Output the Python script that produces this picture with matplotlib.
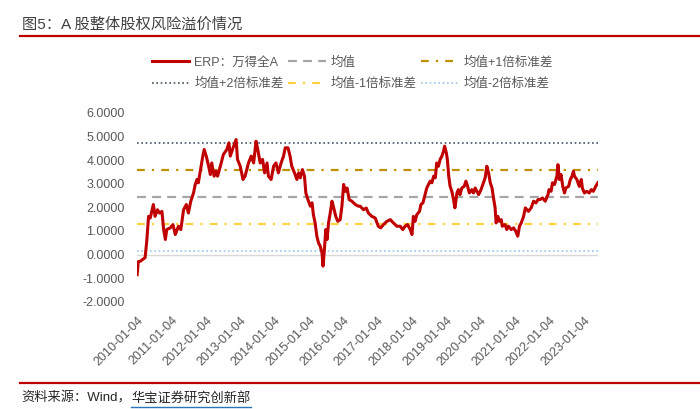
import matplotlib
matplotlib.use("Agg")
import matplotlib.pyplot as plt
from matplotlib.lines import Line2D
import pandas as pd

plt.rcParams['font.family'] = ['Liberation Sans', 'Noto Sans CJK SC']

# ERP 万得全A：时间(距 2010-01-04 的年数) 与数值(%)
erp_t = [0.00, 0.03, 0.09, 0.23, 0.28, 0.33, 0.38, 0.47, 0.52, 0.59, 0.65, 0.72, 0.77, 0.82, 0.86,
         0.96, 1.04, 1.11, 1.20, 1.27, 1.35, 1.43, 1.49, 1.56, 1.64, 1.69, 1.74, 1.78, 1.83, 1.91,
         1.95, 2.01, 2.08, 2.13, 2.17, 2.24, 2.30, 2.34, 2.42, 2.51, 2.61, 2.67, 2.71, 2.79, 2.88,
         2.92, 3.00, 3.08, 3.14, 3.24, 3.32, 3.39, 3.46, 3.51, 3.58, 3.65, 3.71, 3.78, 3.82, 3.90,
         3.97, 4.04, 4.11, 4.19, 4.26, 4.31, 4.39, 4.45, 4.50, 4.58, 4.65, 4.70, 4.75, 4.81, 4.87,
         4.91, 4.97, 5.04, 5.09, 5.13, 5.18, 5.23, 5.28, 5.33, 5.38, 5.41, 5.45, 5.49, 5.53, 5.57,
         5.62, 5.67, 5.71, 5.78, 5.84, 5.91, 5.96, 6.01, 6.06, 6.11, 6.17, 6.25, 6.35, 6.44, 6.49,
         6.59, 6.67, 6.73, 6.83, 6.93, 7.02, 7.09, 7.17, 7.27, 7.37, 7.46, 7.56, 7.66, 7.73, 7.80,
         7.87, 7.95, 8.00, 8.04, 8.09, 8.14, 8.22, 8.26, 8.32, 8.38, 8.43, 8.48, 8.53, 8.58, 8.63,
         8.68, 8.72, 8.77, 8.82, 8.87, 8.92, 8.95, 9.00, 9.03, 9.07, 9.11, 9.16, 9.21, 9.25, 9.31,
         9.35, 9.40, 9.45, 9.52, 9.57, 9.62, 9.67, 9.74, 9.79, 9.84, 9.94, 10.01, 10.08, 10.13, 10.18,
         10.23, 10.28, 10.33, 10.37, 10.42, 10.45, 10.50, 10.54, 10.60, 10.63, 10.71, 10.76, 10.81, 10.89, 10.96,
         11.02, 11.08, 11.13, 11.18, 11.25, 11.30, 11.35, 11.39, 11.47, 11.54, 11.61, 11.67, 11.73, 11.80, 11.88,
         11.96, 11.99, 12.05, 12.09, 12.15, 12.22, 12.25, 12.29, 12.34, 12.39, 12.44, 12.48, 12.56, 12.61, 12.66,
         12.70, 12.73, 12.80, 12.87, 12.93, 12.96, 13.02, 13.09, 13.16, 13.22, 13.28, 13.35, 13.41]
erp_v = [-0.85, -0.30, -0.28, -0.13, 0.60, 1.62, 1.55, 2.12, 1.62, 1.90, 1.76, 1.83, 1.06, 0.64, 1.06,
         1.13, 1.27, 0.85, 1.20, 1.06, 1.90, 2.12, 1.76, 2.26, 2.61, 2.97, 3.18, 3.04, 3.47, 4.17,
         4.45, 4.17, 3.74, 3.39, 3.88, 3.32, 3.53, 3.32, 3.74, 4.24, 4.45, 4.73, 4.17, 4.52, 4.87,
         4.03, 3.74, 3.18, 3.32, 3.88, 4.17, 3.88, 4.80, 4.45, 3.88, 4.03, 3.46, 3.88, 3.32, 3.18,
         3.74, 3.88, 3.46, 3.88, 4.17, 4.52, 4.52, 4.17, 3.74, 3.46, 3.18, 3.46, 3.25, 3.60, 3.32,
         2.61, 2.33, 2.05, 2.19, 1.69, 1.34, 0.78, 0.49, 0.35, 0.07, -0.49, 0.21, 1.06, 0.64, 1.34,
         1.76, 2.26, 2.05, 1.62, 1.41, 1.48, 2.05, 2.97, 2.68, 2.82, 2.33, 2.26, 2.12, 2.05, 2.05,
         1.90, 1.97, 1.76, 1.62, 1.55, 1.20, 1.13, 1.27, 1.41, 1.48, 1.34, 1.20, 1.20, 1.06, 1.20,
         1.27, 1.06, 0.85, 1.62, 1.41, 1.69, 1.83, 2.12, 2.19, 2.54, 2.82, 2.97, 3.11, 3.04, 3.32,
         3.25, 3.88, 3.74, 4.03, 4.17, 4.38, 4.59, 4.31, 4.03, 3.32, 2.89, 2.68, 2.33, 1.98, 2.61,
         2.75, 2.54, 2.82, 2.89, 3.11, 2.89, 2.61, 2.75, 2.61, 2.82, 2.54, 2.75, 3.04, 3.25, 3.74,
         3.46, 3.04, 2.82, 2.43, 1.98, 1.34, 1.62, 1.41, 1.48, 1.20, 1.27, 1.06, 1.20, 1.06, 1.13,
         0.99, 0.78, 1.20, 1.34, 1.62, 1.98, 1.90, 1.83, 1.98, 2.26, 2.19, 2.33, 2.33, 2.40, 2.26,
         2.54, 2.75, 2.68, 3.04, 2.97, 3.32, 3.81, 3.18, 3.39, 2.89, 2.61, 2.82, 2.89, 3.18, 3.32,
         3.53, 3.32, 3.18, 2.89, 3.18, 2.82, 2.61, 2.68, 2.61, 2.75, 2.68, 2.89, 3.04]

erp_mean = 2.43
erp_std = 1.14

years = list(range(2010, 2024))
xtick_labels = [f"{y}-01-04" for y in years]
yticks = [-2, -1, 0, 1, 2, 3, 4, 5, 6]

start = pd.Timestamp("2010-01-04")
dates = [start + pd.Timedelta(days=t * 365.25) for t in erp_t]
tick_dates = [pd.Timestamp(f"{y}-01-04") for y in years]

fig = plt.figure(figsize=(7, 4.09), dpi=100)
ax = fig.add_axes([0.196, 0.262, 0.658, 0.462])

ax.axhline(0, color="#D9D9D9", lw=1, zorder=1)
ax.plot(dates, erp_v, color="#C00000", lw=2.2, zorder=5)
l_mean = ax.axhline(erp_mean, color="#A6A6A6", lw=1.6, dashes=(4, 2.8), zorder=3)
l_p1 = ax.axhline(erp_mean + erp_std, color="#BF9000", lw=1.6, dashes=(3.5, 3.2, 1, 3.2), zorder=3)
l_p2 = ax.axhline(erp_mean + 2 * erp_std, color="#44546A", lw=1.2, dashes=(1, 1.6), zorder=3)
l_m1 = ax.axhline(erp_mean - erp_std, color="#FFD23F", lw=1.6, dashes=(3.5, 3.2, 1, 3.2), zorder=3)
l_m2 = ax.axhline(erp_mean - 2 * erp_std, color="#9DC3E6", lw=1.2, dashes=(1, 1.6), zorder=3)

ax.set_xlim(dates[0], dates[-1])
ax.set_ylim(-2, 6)
ax.set_yticks(yticks)
ax.set_yticklabels([f"{v:.4f}" for v in yticks])
ax.set_xticks(tick_dates)
ax.set_xticklabels(xtick_labels, rotation=45, ha="right", rotation_mode="anchor")
ax.tick_params(axis="both", length=0, labelsize=9, labelcolor="#595959")
ax.tick_params(axis="x", pad=9)
ax.tick_params(axis="y", pad=9)
for s in ax.spines.values():
    s.set_visible(False)

handles = [
    Line2D([], [], color="#C00000", lw=2.2),
    Line2D([], [], color="#44546A", lw=1.2, dashes=(1, 1.6)),
    Line2D([], [], color="#A6A6A6", lw=1.6, dashes=(4, 2.8)),
    Line2D([], [], color="#FFD23F", lw=1.6, dashes=(3.5, 3.2, 1, 3.2)),
    Line2D([], [], color="#BF9000", lw=1.6, dashes=(3.5, 3.2, 1, 3.2)),
    Line2D([], [], color="#9DC3E6", lw=1.2, dashes=(1, 1.6)),
]
labels = ["ERP：万得全A", "均值+2倍标准差", "均值", "均值-1倍标准差", "均值+1倍标准差", "均值-2倍标准差"]
leg = fig.legend(handles, labels, ncol=3, loc="upper left", bbox_to_anchor=(0.217, 0.862),
                 frameon=False, fontsize=9, handlelength=3.0, handletextpad=0.4,
                 columnspacing=0.35, labelspacing=0.75, borderpad=0, borderaxespad=0)
for t in leg.get_texts():
    t.set_color("#595959")

# 标题与来源
fig.text(0.031, 0.939, "图5：A 股整体股权风险溢价情况", fontsize=11, color="#404040", va="center")
fig.add_artist(Line2D([0.029, 1.0], [0.911, 0.911], color="#C00000", lw=1.6))
fig.add_artist(Line2D([0.029, 1.0], [0.0645, 0.0645], color="#C00000", lw=1.6))
src1 = fig.text(0.031, 0.027, "资料来源：Wind，", fontsize=9.5, color="#262626", va="center")
fig.canvas.draw()
r = fig.canvas.get_renderer()
bb = src1.get_window_extent(r)
x2 = bb.x1 / fig.bbox.width
src2 = fig.text(x2, 0.027, "华宝证券研究创新部", fontsize=9.5, color="#262626", va="center")
bb2 = src2.get_window_extent(r)
fig.add_artist(Line2D([x2, bb2.x1 / fig.bbox.width], [0.006, 0.006], color="#2E75B6", lw=1))

fig.savefig("out.png", dpi=100)
